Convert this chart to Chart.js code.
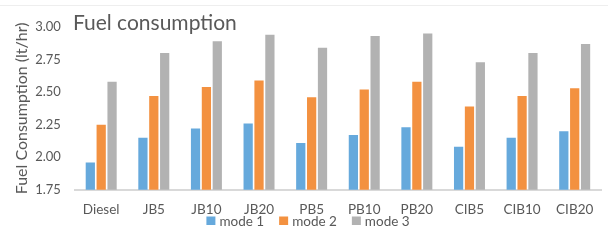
<!DOCTYPE html>
<html>
<head>
<meta charset="utf-8">
<script src="https://cdn.jsdelivr.net/npm/chart.js@4"></script>
<style>
  html, body { margin: 0; padding: 0; background: #fff; }
  #wrap { width: 608px; height: 244px; position: relative; }
</style>
</head>
<body>
<div id="wrap"><canvas id="fuelChart"></canvas></div>
<script>
const fuels = ['Diesel', 'JB5', 'JB10', 'JB20', 'PB5', 'PB10', 'PB20', 'CIB5', 'CIB10', 'CIB20'];
const mode1 = [1.96, 2.15, 2.22, 2.26, 2.11, 2.17, 2.23, 2.08, 2.15, 2.20];
const mode2 = [2.25, 2.47, 2.54, 2.59, 2.46, 2.52, 2.58, 2.39, 2.47, 2.53];
const mode3 = [2.58, 2.80, 2.89, 2.94, 2.84, 2.93, 2.95, 2.73, 2.80, 2.87];
const seriesNames = ['mode 1', 'mode 2', 'mode 3'];
const seriesColors = ['#66A9DC', '#F39140', '#B2B2B2'];

const textColor = '#595959';
const fontName = 'Lato, "Open Sans", sans-serif';

// title sits inside the plot area and the legend hugs the category labels,
// like the excel original, so both are drawn here instead of by the plugins
const excelBits = {
  id: 'excelBits',
  afterDraw(chart) {
    const c = chart.ctx;
    const area = chart.chartArea;
    c.save();
    c.strokeStyle = '#eeeeee';
    c.lineWidth = 1;
    c.beginPath();
    c.moveTo(0, 5.5);
    c.lineTo(chart.width, 5.5);
    c.stroke();

    c.fillStyle = textColor;
    c.font = '21px ' + fontName;
    c.textBaseline = 'alphabetic';
    c.fillText('Fuel consumption', area.left - 2, 30);

    // legend
    c.font = '13.5px ' + fontName;
    c.textBaseline = 'middle';
    const box = 9, gapText = 4, gapItem = 15, y = 221;
    const items = chart.data.datasets.map((ds) => ({
      label: ds.label, color: ds.backgroundColor, w: c.measureText(ds.label).width
    }));
    let total = 0;
    items.forEach((it, i) => { total += box + gapText + it.w + (i ? gapItem : 0); });
    let x = chart.width / 2 + 4 - total / 2;
    items.forEach((it) => {
      c.fillStyle = it.color;
      c.fillRect(x, y - 4.5, box, 8.5);
      c.fillStyle = textColor;
      c.fillText(it.label, x + box + gapText, y + 0.5);
      x += box + gapText + it.w + gapItem;
    });
    c.restore();
  }
};

const ctx = document.getElementById('fuelChart').getContext('2d');
new Chart(ctx, {
  type: 'bar',
  data: {
    labels: fuels,
    datasets: [
      { label: seriesNames[0], data: mode1, backgroundColor: seriesColors[0] },
      { label: seriesNames[1], data: mode2, backgroundColor: seriesColors[1] },
      { label: seriesNames[2], data: mode3, backgroundColor: seriesColors[2] }
    ]
  },
  options: {
    responsive: true,
    maintainAspectRatio: false,
    animation: false,
    layout: { padding: { left: 10, right: 7, top: 27, bottom: 15 } },
    datasets: {
      bar: { categoryPercentage: 0.62, barPercentage: 0.85 }
    },
    plugins: {
      legend: { display: false },
      tooltip: { enabled: false }
    },
    scales: {
      x: {
        grid: { display: false, drawTicks: false },
        border: { color: '#d9d9d9', width: 2 },
        ticks: { color: textColor, font: { family: fontName, size: 13.5 }, padding: 11.5 }
      },
      y: {
        min: 1.75,
        max: 3.0,
        grid: { display: false, drawTicks: true, tickLength: 12 },
        border: { display: false },
        ticks: {
          stepSize: 0.25,
          color: textColor,
          font: { family: fontName, size: 13 },
          padding: 2,
          callback: (v) => v.toFixed(2)
        },
        title: {
          display: true,
          text: 'Fuel Consumption (lt/hr)',
          color: textColor,
          font: { family: fontName, size: 16 },
          padding: 2
        }
      }
    }
  },
  plugins: [excelBits]
});
</script>
</body>
</html>
